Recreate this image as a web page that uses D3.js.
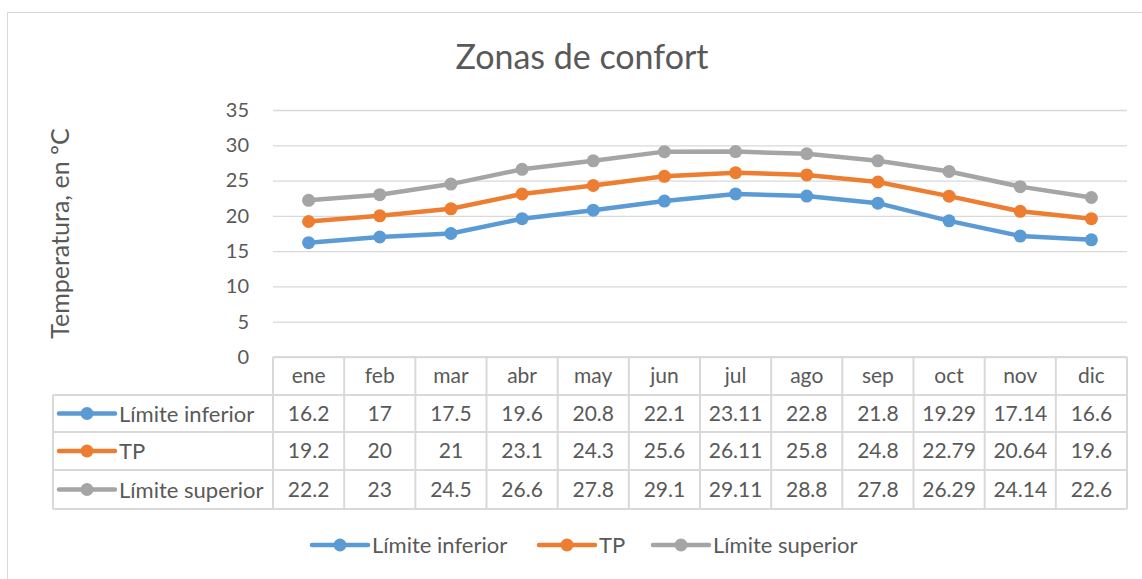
<!DOCTYPE html>
<html>
<head>
<meta charset="utf-8">
<script src="https://cdn.jsdelivr.net/npm/d3@7"></script>
<style>
  html, body { margin: 0; padding: 0; background: #fff; }
  svg { display: block; font-family: Lato, "Open Sans", sans-serif; }
</style>
</head>
<body>
<svg id="chart" width="1142" height="579"></svg>
<script>
// Months shown along the category axis and in the data table header
const months = ["ene", "feb", "mar", "abr", "may", "jun", "jul", "ago", "sep", "oct", "nov", "dic"];

// Series values (ºC)
const limiteInferior = [16.2, 17, 17.5, 19.6, 20.8, 22.1, 23.11, 22.8, 21.8, 19.29, 17.14, 16.6];
const tp = [19.2, 20, 21, 23.1, 24.3, 25.6, 26.11, 25.8, 24.8, 22.79, 20.64, 19.6];
const limiteSuperior = [22.2, 23, 24.5, 26.6, 27.8, 29.1, 29.11, 28.8, 27.8, 26.29, 24.14, 22.6];

const seriesNames = ["Límite inferior", "TP", "Límite superior"];
const seriesColors = ["#5B9BD5", "#ED7D31", "#A5A5A5"];
const yTicks = [0, 5, 10, 15, 20, 25, 30, 35];

const series = [limiteInferior, tp, limiteSuperior].map((values, i) => ({
  name: seriesNames[i], color: seriesColors[i], values
}));

const svg = d3.select("#chart");
const textColor = "#595959";
const gridColor = "#D9D9D9";

// Chart frame
svg.append("rect")
  .attr("x", 7.5).attr("y", 12.5)
  .attr("width", 1160).attr("height", 600)
  .attr("fill", "#fff").attr("stroke", "#D9D9D9").attr("stroke-width", 1);

// Plot geometry
const plot = { left: 273, right: 1127, top: 110, bottom: 357 };

const x = d3.scaleBand().domain(months).range([plot.left, plot.right]).padding(0);
const y = d3.scaleLinear().domain([0, 35]).range([plot.bottom, plot.top]);

// Title
svg.append("text")
  .attr("x", 582).attr("y", 69)
  .attr("text-anchor", "middle")
  .attr("fill", textColor)
  .attr("font-size", 34)
  .text("Zonas de confort");

// Y axis title
svg.append("text")
  .attr("transform", `translate(69, ${(plot.top + plot.bottom) / 2}) rotate(-90)`)
  .attr("text-anchor", "middle")
  .attr("fill", textColor)
  .attr("font-size", 25)
  .text("Temperatura, en ºC");

// Horizontal gridlines and tick labels via a left axis
const yAxis = d3.axisLeft(y).tickValues(yTicks).tickSize(-(plot.right - plot.left)).tickPadding(24);
const gy = svg.append("g")
  .attr("transform", `translate(${plot.left},0)`)
  .call(yAxis);
gy.select(".domain").remove();
gy.selectAll(".tick line").attr("stroke", gridColor).attr("stroke-width", 1.3);
gy.selectAll(".tick text")
  .attr("fill", textColor)
  .attr("font-size", 20)
  .attr("font-family", "Lato, 'Open Sans', sans-serif");

// Data table
const rowTops = [357, 395, 432, 470, 509];
const tableLeft = 53;
const tg = svg.append("g").attr("class", "data-table")
  .attr("stroke", gridColor).attr("stroke-width", 2).attr("fill", "none");

// Horizontal rules of the table
tg.append("line").attr("x1", plot.left).attr("x2", plot.right).attr("y1", rowTops[0]).attr("y2", rowTops[0]);
for (let r = 1; r < rowTops.length; r++) {
  tg.append("line").attr("x1", tableLeft).attr("x2", plot.right).attr("y1", rowTops[r]).attr("y2", rowTops[r]);
}
// Vertical separators
months.forEach(m => {
  tg.append("line").attr("x1", x(m)).attr("x2", x(m)).attr("y1", rowTops[0]).attr("y2", rowTops[4]);
});
tg.append("line").attr("x1", plot.right).attr("x2", plot.right).attr("y1", rowTops[0]).attr("y2", rowTops[4]);
tg.append("line").attr("x1", tableLeft).attr("x2", tableLeft).attr("y1", rowTops[1]).attr("y2", rowTops[4]);

const cellText = svg.append("g").attr("fill", textColor).attr("font-size", 21).attr("text-anchor", "middle");
months.forEach(m => {
  cellText.append("text")
    .attr("x", x(m) + x.bandwidth() / 2)
    .attr("y", (rowTops[0] + rowTops[1]) / 2 + 7)
    .text(m);
});
series.forEach((s, i) => {
  const cy = (rowTops[i + 1] + rowTops[i + 2]) / 2 + 7;
  s.values.forEach((v, j) => {
    cellText.append("text")
      .attr("x", x(months[j]) + x.bandwidth() / 2)
      .attr("y", cy)
      .text(v);
  });
});

// Legend key: a short line with a marker in the middle
const keyLength = 56;
function legendKey(g, x0, cy, color) {
  g.append("line")
    .attr("x1", x0).attr("x2", x0 + keyLength).attr("y1", cy).attr("y2", cy)
    .attr("stroke", color).attr("stroke-width", 4.5).attr("stroke-linecap", "round");
  g.append("circle")
    .attr("cx", x0 + keyLength / 2).attr("cy", cy).attr("r", 6.5).attr("fill", color);
}

// Series keys in table rows
series.forEach((s, i) => {
  const cy = (rowTops[i + 1] + rowTops[i + 2]) / 2;
  const g = svg.append("g");
  legendKey(g, 59, cy, s.color);
  g.append("text")
    .attr("x", 119).attr("y", cy + 8)
    .attr("fill", textColor).attr("font-size", 22)
    .text(s.name);
});

// Series lines and markers
const line = d3.line()
  .x((d, i) => x(months[i]) + x.bandwidth() / 2)
  .y(d => y(d));

series.forEach(s => {
  const g = svg.append("g");
  g.append("path")
    .datum(s.values)
    .attr("d", line)
    .attr("fill", "none")
    .attr("stroke", s.color)
    .attr("stroke-width", 4.5)
    .attr("stroke-linejoin", "round")
    .attr("stroke-linecap", "round");
  g.selectAll("circle")
    .data(s.values)
    .join("circle")
    .attr("cx", (d, i) => x(months[i]) + x.bandwidth() / 2)
    .attr("cy", d => y(d))
    .attr("r", 6.5)
    .attr("fill", s.color);
});

// Bottom legend
const legendX = [312, 539, 653];
series.forEach((s, i) => {
  const g = svg.append("g");
  legendKey(g, legendX[i], 545, s.color);
  g.append("text")
    .attr("x", legendX[i] + keyLength + 4).attr("y", 553)
    .attr("fill", textColor).attr("font-size", 22)
    .text(s.name);
});
</script>
</body>
</html>
